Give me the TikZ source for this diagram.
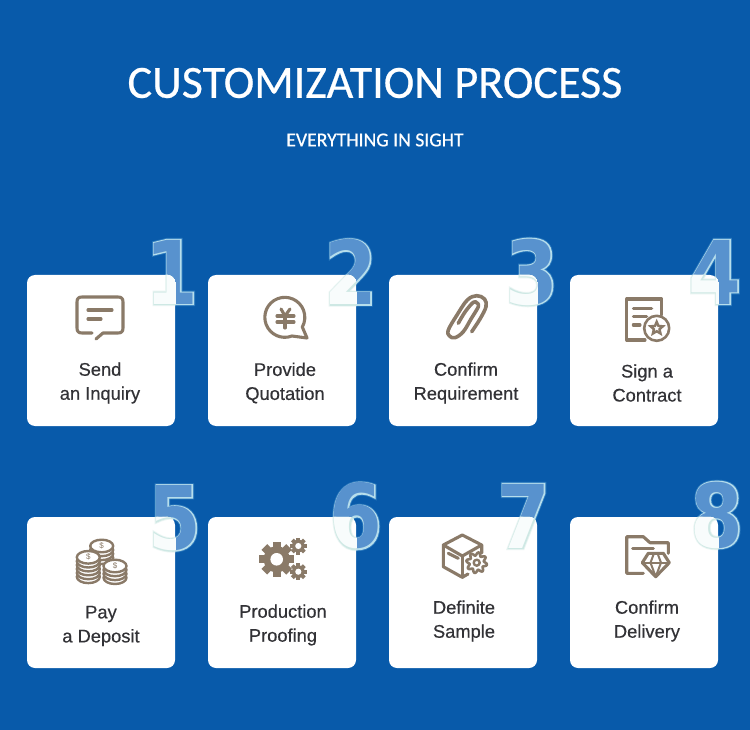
\documentclass[tikz,border=0pt]{standalone}
\usepackage{fontspec}
\usetikzlibrary{shapes.geometric}
\setmainfont{Liberation Sans}
\newfontfamily\lblfont[FakeBold=0.4]{Liberation Sans}
\newfontfamily\titlefont[FakeBold=0.5]{Carlito}
\newfontfamily\subfont[FakeBold=0.6]{Carlito}
\newfontfamily\digitfont[FakeStretch=0.86]{DejaVu Sans Bold}
\newfontfamily\glowfont[FakeStretch=0.86,FakeBold=2.5]{DejaVu Sans Bold}
\newfontfamily\haloofont[FakeStretch=0.86,FakeBold=4.5]{DejaVu Sans Bold}
\definecolor{custbg}{RGB}{8,90,170}
\definecolor{custicon}{RGB}{138,122,104}
\definecolor{custtext}{RGB}{50,50,54}
\definecolor{digitfill}{RGB}{88,146,206}
\definecolor{digitedge}{RGB}{182,222,236}
\definecolor{digithalo}{RGB}{44,122,190}
\definecolor{cardedge}{RGB}{206,232,228}
\definecolor{cardhalo}{RGB}{234,245,243}
\definecolor{cardfill}{RGB}{248,252,252}
% one stack of coins: x, y, layers, name
\newcommand{\coinstack}[4]{%
  \foreach \k in {#3}
    \draw[iconline, line width=2.4pt, fill=white] (#1,#2+3.9*\k) ellipse[x radius=11.5, y radius=6.3];
  \node[font=\fontsize{8}{8}\selectfont, text=custicon, inner sep=0pt] (#4) at (#1,#2) {\$};
}
% filled gear: x, y, radius
\newcommand{\gearicon}[3]{%
  \fill[custicon] (#1,#2) circle[radius=0.75*#3];
  \foreach \a in {0,45,...,315}
    \fill[custicon, rotate around={\a:(#1,#2)}] (#1-0.23*#3,#2-#3) rectangle (#1+0.23*#3,#2);
  \fill[white] (#1,#2) circle[radius=0.36*#3];
}
\begin{document}
\begin{tikzpicture}[
  x=1pt, y=1pt, yscale=-1,
  card/.style={rectangle, rounded corners=8pt, fill=white, inner sep=0pt,
    minimum width=148pt, minimum height=151pt},
  lbl/.style={font=\lblfont\fontsize{18.3}{24}\selectfont, text=custtext, align=center, inner sep=0pt},
  num/.style={inner sep=0pt, anchor=center},
  iconline/.style={draw=custicon, line width=3.1pt, line join=round, line cap=round},
]
\fill[custbg] (0,0) rectangle (750,730);
\node[inner sep=0pt, text=white, font=\titlefont\fontsize{46.1}{46.1}\selectfont] (title) at (375,83) {CUSTOMIZATION PROCESS};
\node[inner sep=0pt, text=white, font=\subfont\fontsize{19.7}{19.7}\selectfont] (subtitle) at (375,140) {EVERYTHING IN SIGHT};
% glass digits, the part over the blue
\foreach \n/\x/\y in {1/172/272, 2/351/272, 3/532/272, 4/715/272, 5/175/518, 6/356/516, 7/524/516, 8/717/515} {
  \node[num, text=digithalo, font=\haloofont\fontsize{88}{88}\selectfont] (halo\n) at (\x,\y) {\n};
  \node[num, text=digitedge, font=\glowfont\fontsize{88}{88}\selectfont] (edge\n) at (\x,\y) {\n};
  \node[num, text=digitfill, font=\digitfont\fontsize{88}{88}\selectfont] (fill\n) at (\x,\y) {\n};
}
% cards
\foreach \n/\x/\y in {1/101/350.5, 2/282/350.5, 3/463/350.5, 4/644/350.5, 5/101/592.5, 6/282/592.5, 7/463/592.5, 8/644/592.5}
  \node[card] (card\n) at (\x,\y) {};
% glass digits, the part over the cards
\foreach \n/\x/\y in {1/172/272, 2/351/272, 3/532/272, 4/715/272, 5/175/518, 6/356/516, 7/524/516, 8/717/515} {
  \begin{scope}
    \clip[rounded corners=8pt] (card\n.south west) rectangle (card\n.north east);
    \node[num, text=cardhalo, font=\haloofont\fontsize{88}{88}\selectfont] (chalo\n) at (\x,\y) {\n};
    \node[num, text=cardedge, font=\glowfont\fontsize{88}{88}\selectfont] (cedge\n) at (\x,\y) {\n};
    \node[num, text=cardfill, font=\digitfont\fontsize{88}{88}\selectfont] (cfill\n) at (\x,\y) {\n};
  \end{scope}
}
% labels
\foreach \n/\x/\y/\t in {1/100/383/{Send\\an Inquiry}, 2/285/383/{Provide\\Quotation},
    3/466/383/{Confirm\\Requirement}, 4/647/383/{Sign a\\Contract},
    5/101/626/{Pay\\a Deposit}, 6/283/625/{Production\\Proofing},
    7/464/621/{Definite\\Sample}, 8/647/621/{Confirm\\Delivery}}
  \node[lbl] (label\n) at (\x,\y) {\t};
% send: speech bubble
\draw[iconline] (92,333) -- (82,333) .. controls (78.5,333) and (77,331.5) .. (77,328) -- (77,302)
  .. controls (77,298.5) and (78.5,297) .. (82,297) -- (118,297)
  .. controls (121.5,297) and (123,298.5) .. (123,302) -- (123,328)
  .. controls (123,331.5) and (121.5,333) .. (118,333) -- (103,333) -- (96,339);
\draw[iconline] (88,310) -- (112,310);
\draw[iconline] (88,319) -- (101,319);
% quotation: round bubble with yen sign
\draw[iconline] (292,336) arc[start angle=69, end angle=389, radius=20] -- (307,338) -- cycle;
\draw[iconline] (281,309) -- (285,316) -- (290,309);
\draw[iconline] (277,316) -- (294,316);
\draw[iconline] (277,322) -- (294,322);
\draw[iconline] (285,316) -- (285,328);
% requirement: paper clip
\draw[iconline, line width=3.6pt] plot[smooth, tension=0.6] coordinates {(471.7,331.7) (480,319) (486,306.7)
  (484.5,299) (476.7,295.7) (467.3,300) (457,315) (448.3,330) (449.5,336) (455,337.7) (463.3,331.7)
  (471,319) (478.3,306.7) (477,303) (473.3,302.3) (465,312) (458.3,323.3)};
% contract: sheet with star badge
\draw[iconline] (661.7,315) -- (661.7,299) -- (626.7,299) -- (626.7,340) -- (645,340);
\draw[iconline] (633.3,308.3) -- (651.7,308.3);
\draw[iconline] (633.3,316.7) -- (646.7,316.7);
\draw[iconline] (633.3,325) -- (640,325);
\draw[iconline, line width=2.6pt] (656.7,328.3) circle[radius=12.5];
\node[star, star points=5, star point ratio=2.2, draw=custicon, line width=2.4pt, minimum size=13pt, inner sep=0pt] (badge) at (656.7,328.3) {};
% deposit: coins
\coinstack{101.7}{546}{3,2,1,0}{coina}
\coinstack{88.3}{557.3}{5,4,3,2,1,0}{coinb}
\coinstack{115}{566}{3,2,1,0}{coinc}
% proofing: gears
\gearicon{276.7}{559.3}{17.5}
\gearicon{298.3}{546}{8.5}
\gearicon{298.3}{571.7}{8.5}
% sample: box and gear
\draw[iconline] (468,574) -- (462.3,577.3) -- (443.3,566.7) -- (443.3,545) -- (462.3,535) -- (481.7,545) -- (481.7,553);
\draw[iconline] (443.3,545) -- (462.3,556) -- (481.7,545);
\draw[iconline] (462.3,556) -- (462.3,577.3);
\draw[iconline] (448.3,553.3) -- (458.3,558.3);
\draw[iconline, fill=white, line width=2.6pt] plot[domain=0:360, samples=145, smooth] ({476.7+(8.8+1.6*sin(8*\x))*cos(\x)},{562.7+(8.8+1.6*sin(8*\x))*sin(\x)}) -- cycle;
\draw[iconline, line width=2.4pt] (476.7,562.7) circle[radius=3];
% delivery: folder with gem
\draw[iconline] (668.3,553.3) -- (668.3,542.7) -- (650,542.7) -- (643.3,536.7) -- (626.7,536.7) -- (626.7,573.3) -- (643.3,573.3);
\draw[iconline] (632.7,548.3) -- (653.3,548.3);
\draw[iconline, fill=white] (648.3,553.3) -- (663.3,553.3) -- (669.3,562.7) -- (655.7,576.7) -- (642.3,562.7) -- cycle;
\draw[iconline, line width=2pt] (642.3,562.7) -- (669.3,562.7);
\draw[iconline, line width=2pt] (650.5,562.7) -- (655.7,576.7) -- (661,562.7);
\draw[iconline, line width=2pt] (650.5,562.7) -- (654,553.3);
\draw[iconline, line width=2pt] (661,562.7) -- (657.5,553.3);
\end{tikzpicture}
\end{document}
